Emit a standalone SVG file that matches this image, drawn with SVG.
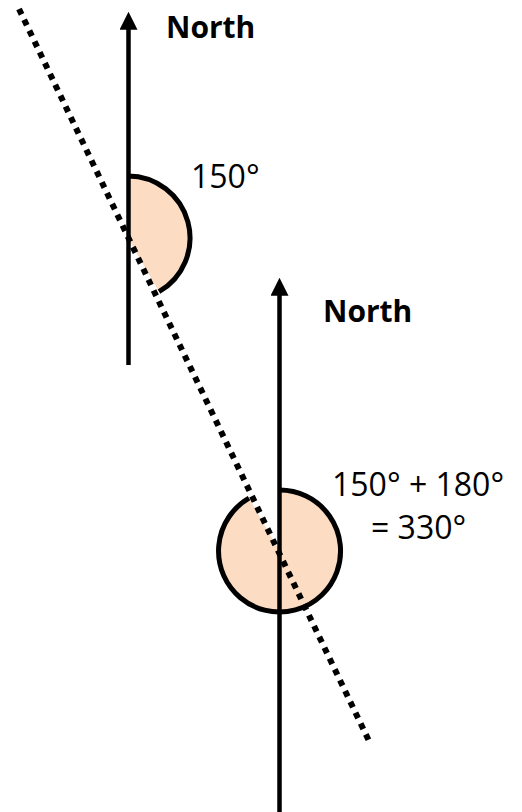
<svg xmlns="http://www.w3.org/2000/svg" width="522" height="812" viewBox="0 0 522 812">
<style>
.ax{stroke:#000;stroke-width:4.5;fill:none}
.arc{stroke:#000;stroke-width:5;fill:none}
.fill{fill:#FCDCC2;stroke:none}
.dot{stroke:#000;stroke-width:6;stroke-dasharray:6 6;fill:none}
.lb{font-family:"Open Sans","Liberation Sans",sans-serif;font-size:30px;font-weight:bold;fill:#000}
.tx{font-family:"Open Sans","Liberation Sans",sans-serif;font-size:32px;fill:#000}
</style>
<defs>
<marker id="ah" viewBox="0 0 10 10" refX="1" refY="5" markerWidth="4" markerHeight="4" orient="auto" markerUnits="strokeWidth">
<path d="M0,0 L10,5 L0,10 z" fill="#000"/>
</marker>
</defs>
<g id="angle1">
<path class="fill" d="M128,238 L128,176 A62,62 0 0 1 159,291.7 Z"/>
<path class="arc" d="M128,176 A62,62 0 0 1 159,291.7"/>
</g>
<g id="angle2">
<path class="fill" d="M279.5,551 L279.5,490 A61,61 0 1 1 249,498.2 Z"/>
<path class="arc" d="M279.5,490 A61,61 0 1 1 249,498.2"/>
</g>
<g id="connectors">
<line class="dot" x1="19" y1="9" x2="370" y2="743"/>
<line class="ax" x1="128.5" y1="365" x2="128.5" y2="28" marker-end="url(#ah)"/>
<line class="ax" x1="279.5" y1="812" x2="279.5" y2="294" marker-end="url(#ah)"/>
</g>
<g id="north1"><text class="lb" x="166" y="38">North</text></g>
<g id="north2"><text class="lb" x="323" y="322">North</text></g>
<g id="label1"><text class="tx" x="191" y="188">150°</text></g>
<g id="label2">
<text class="tx" x="332" y="496">150° + 180°</text>
<text class="tx" x="371" y="539">= 330°</text>
</g>
</svg>
